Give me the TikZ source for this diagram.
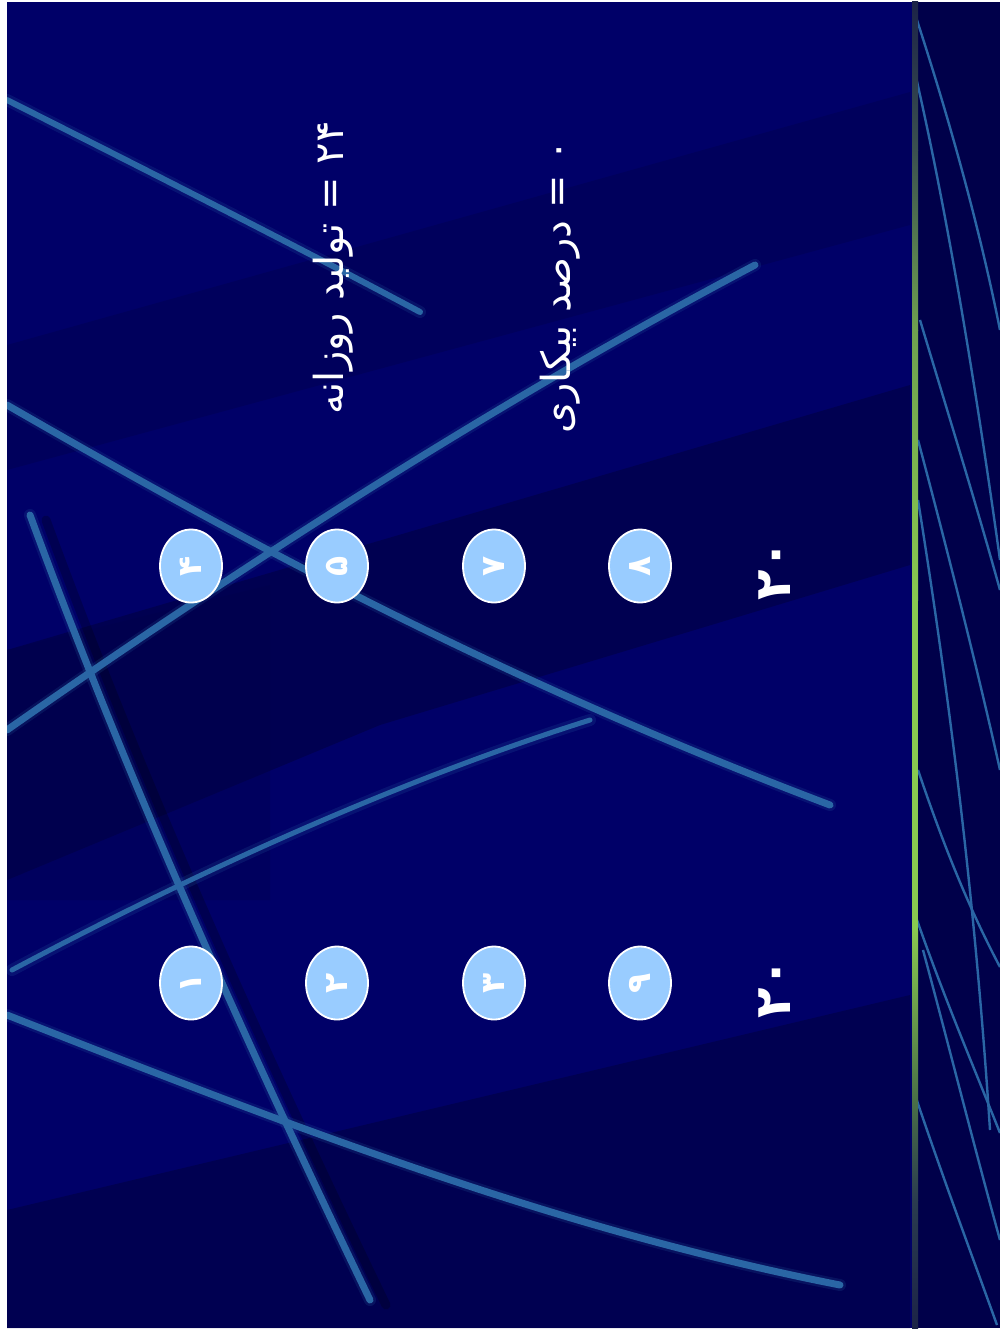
\documentclass[tikz,border=0pt]{standalone}
\usepackage{fontspec}
\usetikzlibrary{shapes.geometric}
\newfontfamily\arabicfont[Script=Arabic]{DejaVu Sans}
\TeXXeTstate=1
\definecolor{bgnavy}{RGB}{0,0,104}
\definecolor{banddark}{RGB}{0,0,72}
\definecolor{stripdark}{RGB}{0,0,74}
\definecolor{lineblue}{RGB}{42,102,165}
\definecolor{circfill}{RGB}{153,204,255}
\definecolor{gA}{RGB}{28,36,72}
\definecolor{gB}{RGB}{42,60,80}
\definecolor{gC}{RGB}{74,112,72}
\definecolor{gD}{RGB}{136,200,80}
\definecolor{gE}{RGB}{110,160,80}
\definecolor{gF}{RGB}{58,80,80}
\begin{document}
\begin{tikzpicture}[x=1pt,y=-1pt,
  bgl/.style={line width=7pt,color=lineblue,line cap=round},
  glowl/.style={line width=12pt,color=lineblue,opacity=0.18,line cap=round},
  shadowl/.style={line width=9pt,color=black,opacity=0.22,line cap=round},
  thinl/.style={line width=2.4pt,color=lineblue},
  numcirc/.style={ellipse,minimum width=62pt,minimum height=73pt,inner sep=0pt,
    fill=circfill,draw=white,line width=1.8pt,text=white,
    font=\arabicfont\bfseries\fontsize{33}{33}\selectfont},
  lbl/.style={rotate=90,text=white,inner sep=0pt,font=\arabicfont\fontsize{40}{40}\selectfont},
  big/.style={rotate=90,text=white,inner sep=0pt,font=\arabicfont\bfseries\fontsize{50}{50}\selectfont}]
\useasboundingbox (0,0) rectangle (1000,1330);
\fill[white] (0,0) rectangle (1000,1330);
% slide background
\fill[bgnavy] (7,2) rectangle (1000,1328);
% darker diagonal bands
\fill[banddark,opacity=0.35] (7,345) -- (910,92) -- (910,225) -- (7,470) -- cycle;
\fill[banddark,opacity=0.7] (7,650) -- (910,385) -- (910,565) -- (380,725) -- (7,880) -- cycle;
\fill[banddark,opacity=0.3] (7,650) -- (270,585) -- (270,900) -- (7,900) -- cycle;
\fill[banddark,opacity=0.7] (7,1210) -- (910,995) -- (910,1328) -- (7,1328) -- cycle;
% right strip
\fill[stripdark] (912,2) rectangle (1000,1328);
% gradient vertical line
\shade[top color=gA,bottom color=gF] (912,2) rectangle (918,150);
\shade[top color=gF,bottom color=gE] (912,150) rectangle (918,330);
\shade[top color=gE,bottom color=gD] (912,330) rectangle (918,600);
\fill[gD] (912,600) rectangle (918,930);
\shade[top color=gD,bottom color=gC] (912,930) rectangle (918,1100);
\shade[top color=gC,bottom color=gB] (912,1100) rectangle (918,1200);
\shade[top color=gB,bottom color=gA] (912,1200) rectangle (918,1328);
% thin lines in the strip
\begin{scope}
\clip (918,2) rectangle (1000,1328);
\draw[thinl] (912,5) .. controls (950,120) and (980,230) .. (1000,330);
\draw[thinl] (912,60) .. controls (945,200) and (975,380) .. (1000,560);
\draw[thinl] (920,320) .. controls (950,420) and (975,500) .. (1000,590);
\draw[thinl] (918,440) .. controls (950,560) and (980,680) .. (1000,770);
\draw[thinl] (918,500) .. controls (950,700) and (975,900) .. (990,1130);
\draw[thinl] (918,770) .. controls (945,850) and (970,910) .. (1000,967);
\draw[thinl] (917,920) .. controls (945,1000) and (975,1070) .. (1000,1133);
\draw[thinl] (923,950) .. controls (950,1050) and (975,1150) .. (1000,1240);
\draw[thinl] (910,1080) .. controls (940,1170) and (970,1250) .. (997,1325);
\end{scope}
% big curved lines
\begin{scope}
\clip (7,2) rectangle (910,1328);
\draw[shadowl] (46,520) .. controls (136,765) and (246,1015) .. (386,1305);
\draw[glowl] (7,100) .. controls (150,172) and (300,248) .. (420,312);
\draw[bgl,line width=6pt] (7,100) .. controls (150,172) and (300,248) .. (420,312);
\draw[glowl] (7,405) .. controls (250,545) and (500,680) .. (830,805);
\draw[bgl] (7,405) .. controls (250,545) and (500,680) .. (830,805);
\draw[glowl] (7,730) .. controls (250,560) and (500,400) .. (755,265);
\draw[bgl] (7,730) .. controls (250,560) and (500,400) .. (755,265);
\draw[glowl] (30,515) .. controls (120,760) and (230,1010) .. (370,1300);
\draw[bgl] (30,515) .. controls (120,760) and (230,1010) .. (370,1300);
\draw[glowl] (12,970) .. controls (200,870) and (400,780) .. (590,720);
\draw[bgl,line width=5pt] (12,970) .. controls (200,870) and (400,780) .. (590,720);
\draw[glowl] (7,1015) .. controls (300,1130) and (560,1230) .. (840,1285);
\draw[bgl] (7,1015) .. controls (300,1130) and (560,1230) .. (840,1285);
\end{scope}
% circles
\node[numcirc] (c4) at (191,566) {\rotatebox{90}{۴}};
\node[numcirc] (c5) at (337,566) {\rotatebox{90}{۵}};
\node[numcirc] (c7) at (494,566) {\rotatebox{90}{۷}};
\node[numcirc] (c8) at (640,566) {\rotatebox{90}{۸}};
\node[numcirc] (c1) at (191,983) {\rotatebox{90}{۱}};
\node[numcirc] (c2) at (337,983) {\rotatebox{90}{۲}};
\node[numcirc] (c3) at (494,983) {\rotatebox{90}{۳}};
\node[numcirc] (c9) at (640,983) {\rotatebox{90}{۹}};
% texts
\node[lbl] (t1) at (333,268) {\beginR ۲۴ = تولید روزانه\endR};
\node[lbl] (t2) at (560,287) {\beginR ۰ = درصد بیکاری\endR};
\node[big] (s1) at (775,570) {۲۰};
\node[big] (s2) at (775,988) {۲۰};
\end{tikzpicture}
\end{document}
